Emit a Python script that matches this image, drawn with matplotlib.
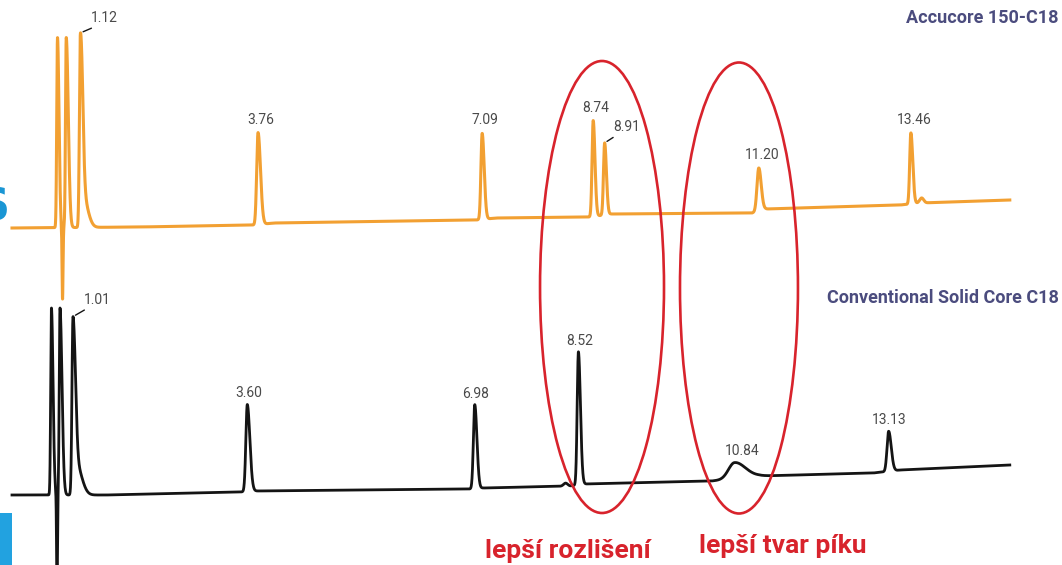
import numpy as np
import matplotlib
matplotlib.use("Agg")
import matplotlib.pyplot as plt
from matplotlib.patches import Ellipse, Rectangle

plt.rcParams['font.family'] = ['Liberation Sans Narrow', 'Roboto', 'DejaVu Sans']

# ---- Accucore 150-C18 (orange trace) ----
acc_rt      = [0.78, 0.855, 0.91, 1.12, 1.16, 3.76, 7.09, 8.74, 8.91, 11.20, 13.46, 13.62]
acc_height  = [190, -72, 190, 190, 30, 92, 86, 96, 72, 43, 71, 5]
acc_sig_l   = [0.011, 0.007, 0.011, 0.014, 0.02, 0.020, 0.018, 0.017, 0.017, 0.026, 0.017, 0.03]
acc_sig_r   = [0.022, 0.007, 0.030, 0.032, 0.07, 0.036, 0.030, 0.026, 0.026, 0.036, 0.028, 0.03]
acc_base_t  = [0.10, 2.0, 3.7, 4.0, 7.0, 7.3, 8.7, 9.0, 11.1, 11.3, 13.3, 13.6, 14.93]
acc_base_y  = [337, 338, 340, 342, 345, 347, 348, 351, 352, 356, 360, 362, 365]
acc_labels  = ["1.12", "3.76", "7.09", "8.74", "8.91", "11.20", "13.46"]

# ---- Conventional Solid Core C18 (black trace) ----
con_rt      = [0.69, 0.773, 0.817, 1.01, 1.06, 3.60, 6.98, 8.33, 8.52, 10.84, 13.13]
con_height  = [187, -95, 187, 177, 30, 87, 84, 3, 133, 16, 40]
con_sig_l   = [0.011, 0.007, 0.011, 0.015, 0.02, 0.021, 0.020, 0.03, 0.018, 0.09, 0.024]
con_sig_r   = [0.024, 0.007, 0.030, 0.034, 0.08, 0.038, 0.032, 0.03, 0.030, 0.16, 0.038]
con_base_t  = [0.10, 1.5, 3.5, 3.7, 6.9, 7.1, 8.4, 8.6, 10.5, 11.2, 12.9, 13.3, 14.93]
con_base_y  = [70, 70, 73, 74, 76, 77, 79, 81, 84, 89, 92, 95, 100]
con_labels  = ["1.01", "3.60", "6.98", "8.52", "10.84", "13.13"]

ORANGE = "#f2a032"
BLACK = "#141414"
RED = "#d8232c"
TITLE = "#4b4c7e"
GREY = "#4a4a4a"


def peak(t, t0, h, sl, sr):
    s = np.where(t < t0, sl, sr)
    return h * np.exp(-0.5 * ((t - t0) / s) ** 2)


def trace(t, rts, hs, sls, srs, bt, by):
    y = np.interp(t, bt, by)
    for t0, h, sl, sr in zip(rts, hs, sls, srs):
        y = y + peak(t, t0, h, sl, sr)
    return y


def apex(label, t, y):
    t0 = float(label)
    m = np.abs(t - t0) < 0.05
    i = np.argmax(y[m])
    return t[m][i], y[m][i]


t = np.linspace(0.104, 14.93, 20000)
y_acc = trace(t, acc_rt, acc_height, acc_sig_l, acc_sig_r, acc_base_t, acc_base_y)
y_con = trace(t, con_rt, con_height, con_sig_l, con_sig_r, con_base_t, con_base_y)

W, H = 1062, 565
fig = plt.figure(figsize=(W / 100, H / 100), dpi=100)
ax = fig.add_axes([0, 0, 1, 1])
px_per_min = 67.3
x0 = -5 / px_per_min
ax.set_xlim(x0, x0 + W / px_per_min)
ax.set_ylim(0, H)
ax.axis("off")

ax.plot(t, y_acc, color=ORANGE, lw=2.2, solid_joinstyle="round", zorder=3)
ax.plot(t, y_con, color=BLACK, lw=2.0, solid_joinstyle="round", zorder=3)

label_kw = dict(textcoords="offset pixels", ha="center", va="center",
                fontsize=10, color=GREY, zorder=5)
leader = dict(arrowstyle="-", color=BLACK, lw=1.0, shrinkA=1, shrinkB=2)

for lab in acc_labels:
    tx, ty = apex(lab, t, y_acc)
    if lab == "1.12":
        ax.annotate(lab, (tx, ty), xytext=(24, 15),
                    arrowprops=dict(leader, relpos=(0.3, 0.0)), **label_kw)
    elif lab == "8.91":
        ax.annotate(lab, (tx, ty), xytext=(22, 16),
                    arrowprops=dict(leader, relpos=(0.2, 0.0)), **label_kw)
    else:
        ax.annotate(lab, (tx, ty), xytext=(3, 13), **label_kw)

for lab in con_labels:
    tx, ty = apex(lab, t, y_con)
    if lab == "1.01":
        ax.annotate(lab, (tx, ty), xytext=(24, 17),
                    arrowprops=dict(leader, relpos=(0.25, 0.0)), **label_kw)
    elif lab == "10.84":
        ax.annotate(lab, (tx, ty), xytext=(7, 12), **label_kw)
    else:
        ax.annotate(lab, (tx, ty), xytext=(1, 11), **label_kw)

# column names
ax.text(15.66, H - 18, "Accucore 150-C18", ha="right", va="center",
        fontsize=13, fontweight="bold", color=TITLE)
ax.text(15.66, H - 298, "Conventional Solid Core C18", ha="right", va="center",
        fontsize=13, fontweight="bold", color=TITLE)

# highlighted regions
ax.add_patch(Ellipse((8.871, 278), 1.842, 452, fill=False, ec=RED, lw=1.9, zorder=4))
ax.add_patch(Ellipse((10.906, 277), 1.753, 451, fill=False, ec=RED, lw=1.9, zorder=4))
ax.text(8.37, H - 551, "lepší rozlišení", ha="center", va="center",
        fontsize=19, fontweight="bold", color=RED)
ax.text(11.55, H - 546, "lepší tvar píku", ha="center", va="center",
        fontsize=19, fontweight="bold", color=RED)

# blue marks at the left edge
ax.text(10 / px_per_min + x0, H - 208, "S", ha="right", va="center",
        fontsize=32, fontweight="bold", color="#1a96d4", family="DejaVu Sans")
ax.add_patch(Rectangle((x0, 0), 12 / px_per_min, 52, color="#22a2e0", lw=0))

fig.savefig("out.png", dpi=100)
